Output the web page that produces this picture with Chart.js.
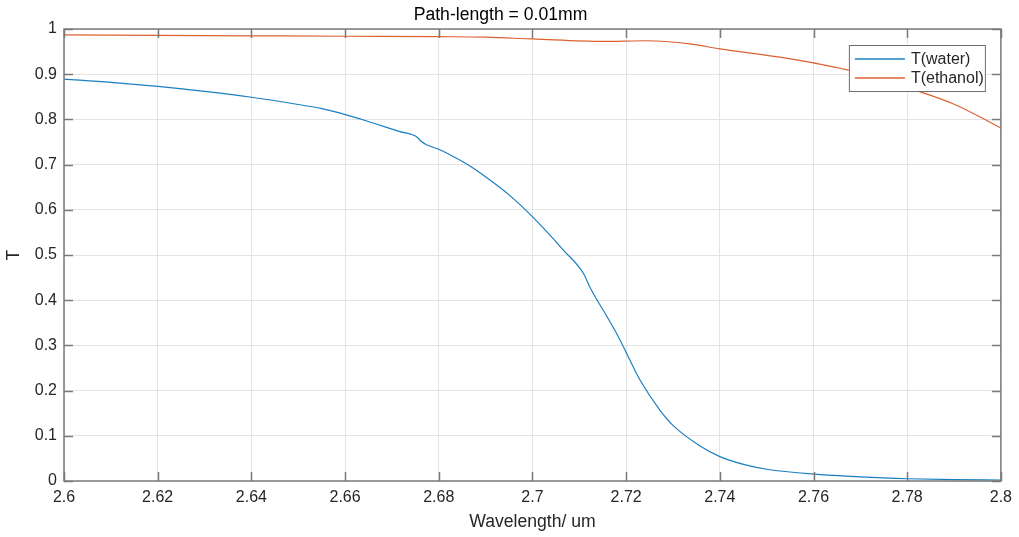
<!DOCTYPE html>
<html>
<head>
<meta charset="utf-8">
<script src="https://cdn.jsdelivr.net/npm/chart.js@4/dist/chart.umd.min.js"></script>
<style>
  html, body { margin: 0; padding: 0; background: #fff; }
  #wrap { width: 1019px; height: 537px; }
</style>
</head>
<body>
<div id="wrap"><canvas id="transChart" width="1019" height="537"></canvas></div>
<script>
// transmission vs wavelength, water
const waveWater = [2.600, 2.610, 2.620, 2.630, 2.640, 2.650, 2.655, 2.659, 2.666, 2.6717, 2.6752, 2.6763,
  2.6774, 2.6802, 2.6838, 2.6874, 2.6909, 2.695, 2.6988, 2.7022, 2.7066, 2.7109, 2.7123, 2.7137,
  2.7159, 2.7185, 2.7205, 2.723, 2.7272, 2.730, 2.7357, 2.740, 2.7457, 2.7500, 2.7603, 2.7700,
  2.7802, 2.7900, 2.8000];
const tWater = [0.889, 0.882, 0.873, 0.862, 0.849, 0.833, 0.824, 0.814, 0.792, 0.773, 0.762, 0.751,
  0.744, 0.733, 0.714, 0.692, 0.666, 0.633, 0.597, 0.561, 0.511, 0.459, 0.428, 0.402,
  0.364, 0.316, 0.274, 0.223, 0.157, 0.123, 0.078, 0.054, 0.035, 0.026, 0.015, 0.009,
  0.005, 0.003, 0.002];

// transmission vs wavelength, ethanol
const waveEthanol = [2.600, 2.620, 2.640, 2.660, 2.680, 2.690, 2.700, 2.715, 2.7244, 2.7336, 2.740,
  2.7528, 2.760, 2.767, 2.7813, 2.7904, 2.800];
const tEthanol = [0.987, 0.986, 0.985, 0.984, 0.983, 0.982, 0.978, 0.9726, 0.974, 0.967, 0.956,
  0.938, 0.925, 0.910, 0.866, 0.832, 0.781];

const xTicks = [2.6, 2.62, 2.64, 2.66, 2.68, 2.7, 2.72, 2.74, 2.76, 2.78, 2.8];
const yTicks = [0, 0.1, 0.2, 0.3, 0.4, 0.5, 0.6, 0.7, 0.8, 0.9, 1];

const seriesNames = ['T(water)', 'T(ethanol)'];

function toPoints(xs, ys) {
  return xs.map((x, i) => ({ x: x, y: ys[i] }));
}

const axisColor = '#7a7a7a';
const gridColor = '#e4e4e4';
const textColor = '#262626';
const fontFamily = 'Arial, "Liberation Sans", Helvetica, sans-serif';

// box around the axes with inward tick marks on all four sides
const axesBox = {
  id: 'axesBox',
  afterDatasetsDraw(chart) {
    const { ctx, chartArea: a, scales } = chart;
    const tl = 9;
    ctx.save();
    ctx.strokeStyle = axisColor;
    ctx.lineWidth = 1.5;
    ctx.beginPath();
    scales.x.ticks.forEach(t => {
      const px = Math.round(scales.x.getPixelForValue(t.value)) + 0.5;
      ctx.moveTo(px, a.bottom); ctx.lineTo(px, a.bottom - tl);
      ctx.moveTo(px, a.top); ctx.lineTo(px, a.top + tl);
    });
    scales.y.ticks.forEach(t => {
      const py = Math.round(scales.y.getPixelForValue(t.value)) + 0.5;
      ctx.moveTo(a.left, py); ctx.lineTo(a.left + tl, py);
      ctx.moveTo(a.right, py); ctx.lineTo(a.right - tl, py);
    });
    ctx.stroke();
    ctx.strokeRect(a.left, a.top, a.right - a.left, a.bottom - a.top);
    ctx.restore();
  }
};

// legend in the upper right corner of the plot
const boxLegend = {
  id: 'boxLegend',
  afterDraw(chart) {
    const { ctx, chartArea: a } = chart;
    const w = 136, h = 46;
    const x0 = a.right - 16 - w, y0 = a.top + 16;
    ctx.save();
    ctx.fillStyle = '#fff';
    ctx.fillRect(x0, y0, w, h);
    ctx.strokeStyle = '#6e6e6e';
    ctx.lineWidth = 1;
    ctx.strokeRect(x0 + 0.5, y0 + 0.5, w, h);
    ctx.font = '16px ' + fontFamily;
    ctx.textBaseline = 'middle';
    ctx.fillStyle = textColor;
    chart.data.datasets.forEach((ds, i) => {
      const yy = y0 + 14 + i * 19;
      ctx.strokeStyle = ds.borderColor;
      ctx.lineWidth = 1.3;
      ctx.beginPath();
      ctx.moveTo(x0 + 6, yy); ctx.lineTo(x0 + 56, yy);
      ctx.stroke();
      ctx.fillText(ds.label, x0 + 62, yy + 1);
    });
    ctx.restore();
  }
};

const ctx1 = document.getElementById('transChart');
const transChart = new Chart(ctx1, {
  type: 'line',
  data: {
    datasets: [{
      label: seriesNames[0],
      data: toPoints(waveWater, tWater),
      borderColor: '#1a7fc1',
      borderWidth: 1.2,
      pointRadius: 0,
      cubicInterpolationMode: 'monotone'
    },
    {
      label: seriesNames[1],
      data: toPoints(waveEthanol, tEthanol),
      borderColor: '#dc6030',
      borderWidth: 1.2,
      pointRadius: 0,
      cubicInterpolationMode: 'monotone'
    }]
  },
  options: {
    responsive: false,
    animation: false,
    layout: { padding: { top: 0, right: 18, bottom: 0, left: 0 } },
    plugins: {
      legend: { display: false },
      tooltip: { enabled: false },
      title: {
        display: true,
        text: 'Path-length = 0.01mm',
        color: '#000',
        font: { family: fontFamily, size: 17.6, weight: 'normal' },
        padding: { top: 4.5, bottom: 3.4 }
      }
    },
    scales: {
      x: {
        type: 'linear',
        min: 2.6,
        max: 2.8,
        afterBuildTicks: (scale) => { scale.ticks = xTicks.map(v => ({ value: v })); },
        afterFit: (scale) => { scale.height = 56; },
        border: { display: false },
        grid: { color: gridColor, drawTicks: false, lineWidth: 1 },
        ticks: {
          color: textColor,
          padding: 7,
          maxRotation: 0,
          autoSkip: false,
          font: { family: fontFamily, size: 16 },
          callback: (v) => String(v)
        },
        title: {
          display: true,
          text: 'Wavelength/ um',
          color: textColor,
          font: { family: fontFamily, size: 17.6 },
          padding: { top: 0, bottom: 4.4 }
        }
      },
      y: {
        min: 0,
        max: 1,
        afterBuildTicks: (scale) => { scale.ticks = yTicks.map(v => ({ value: v })); },
        afterFit: (scale) => { scale.width = 64; },
        border: { display: false },
        grid: { color: gridColor, drawTicks: false, lineWidth: 1 },
        ticks: {
          color: textColor,
          padding: 7,
          autoSkip: false,
          font: { family: fontFamily, size: 16 },
          callback: (v) => String(v)
        },
        title: {
          display: true,
          text: 'T',
          color: textColor,
          font: { family: fontFamily, size: 17.6 },
          padding: { top: 3.4, bottom: 0 }
        }
      }
    }
  },
  plugins: [axesBox, boxLegend]
});
</script>
</body>
</html>
